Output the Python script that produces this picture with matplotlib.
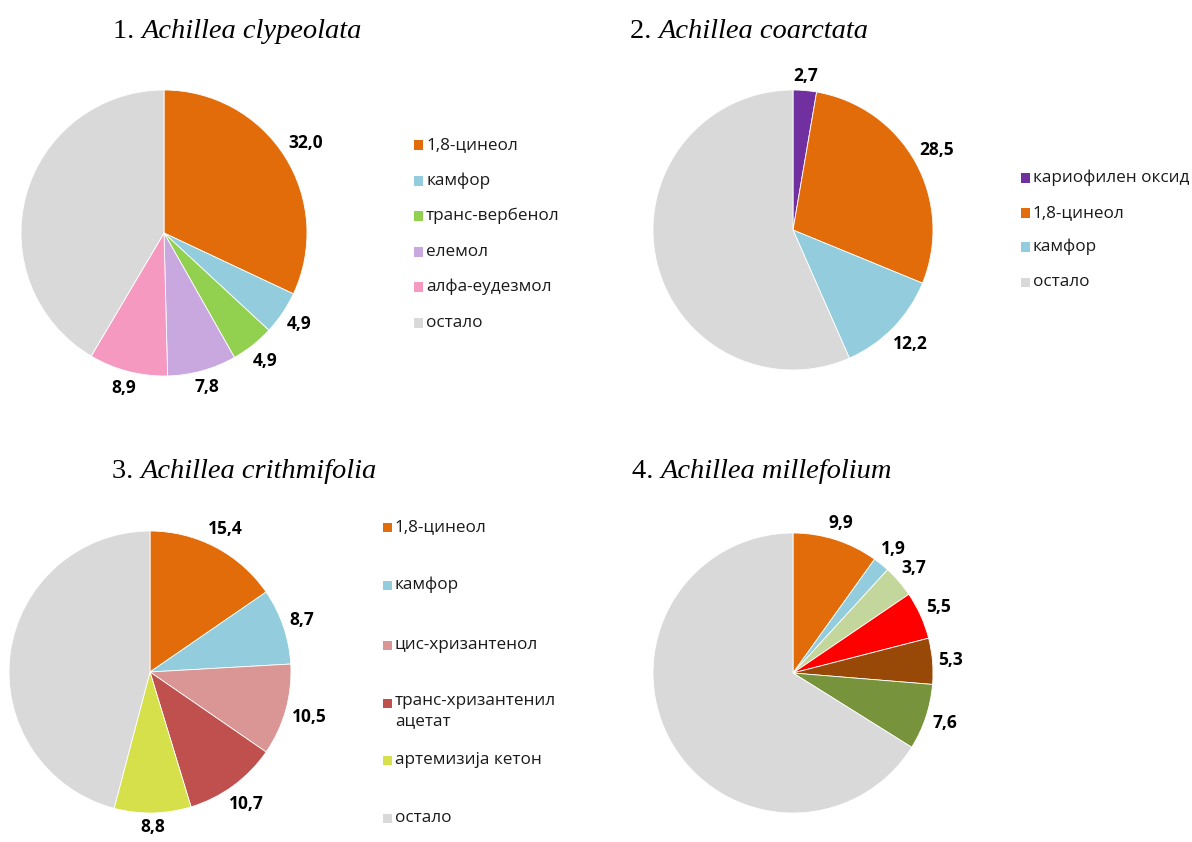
import numpy as np
import matplotlib
matplotlib.use("Agg")
import matplotlib.pyplot as plt
from matplotlib.patches import Rectangle

W, H = 1192, 842

# essential-oil composition (%) of four Achillea species
names = ["Achillea clypeolata", "Achillea coarctata",
         "Achillea crithmifolia", "Achillea millefolium"]

comp1 = ["1,8-цинеол", "камфор", "транс-вербенол", "елемол", "алфа-еудезмол"]
vals1 = [32.0, 4.9, 4.9, 7.8, 8.9]

comp2 = ["кариофилен оксид", "1,8-цинеол", "камфор"]
vals2 = [2.7, 28.5, 12.2]

comp3 = ["1,8-цинеол", "камфор", "цис-хризантенол",
         "транс-хризантенил\nацетат", "артемизија кетон"]
vals3 = [15.4, 8.7, 10.5, 10.7, 8.8]

vals4 = [9.9, 1.9, 3.7, 5.5, 5.3, 7.6]

rest_label = "остало"

ORANGE, CYAN, GREY = "#E36C0A", "#93CDDD", "#D9D9D9"
colors1 = [ORANGE, CYAN, "#92D050", "#C9A8E0", "#F599C1"]
colors2 = ["#7030A0", ORANGE, CYAN]
colors3 = [ORANGE, CYAN, "#D99694", "#C0504D", "#D5E04A"]
colors4 = [ORANGE, CYAN, "#C3D69B", "#FF0000", "#984807", "#77933C"]

LABEL_FONT = dict(family="Open Sans", fontsize=12.5, fontweight="bold", color="black")
LEGEND_FONT = dict(family="Open Sans", fontsize=12.3, color="#1a1a1a")
TITLE_SIZE = 20.5

fig = plt.figure(figsize=(W / 100, H / 100), dpi=100)
renderer = fig.canvas.get_renderer()


def fx(x):
    return x / W


def fy(y):
    return 1 - y / H


def draw_pie(cx, cy, r, vals, colors, half=240, gap=5):
    ax = fig.add_axes([fx(cx - half), fy(cy + half), 2 * half / W, 2 * half / H])
    data = list(vals) + [100 - sum(vals)]
    wedges, _ = ax.pie(data, colors=list(colors) + [GREY], startangle=90,
                       counterclock=False,
                       wedgeprops=dict(edgecolor="white", linewidth=0.6))
    lim = half / r
    ax.set_xlim(-lim, lim)
    ax.set_ylim(-lim, lim)
    ax.axis("off")
    # value labels just outside each slice (except the remainder)
    for w, v in zip(wedges[:-1], vals):
        th = np.deg2rad((w.theta1 + w.theta2) / 2)
        t = ax.text(0, 0, f"{v:.1f}".replace(".", ","), ha="center",
                    va="center", **LABEL_FONT)
        bb = t.get_window_extent(renderer)
        d = r + gap + bb.width / 2 * abs(np.cos(th)) + bb.height / 2 * abs(np.sin(th))
        t.set_position((d / r * np.cos(th), d / r * np.sin(th)))
    return ax


def draw_legend(x, ys, labels, colors, size=9):
    for y, lab, c in zip(ys, labels, colors):
        fig.add_artist(Rectangle((fx(x), fy(y + size / 2)), size / W, size / H,
                                 transform=fig.transFigure, facecolor=c,
                                 edgecolor="none"))
        if "\n" in lab:
            # wrapped entry: first line sits on the slot, the rest hangs below
            fig.text(fx(x + size + 3), fy(y - 10), lab, ha="left", va="top",
                     linespacing=1.35, **LEGEND_FONT)
        else:
            fig.text(fx(x + size + 3), fy(y), lab, ha="left", va="center",
                     **LEGEND_FONT)


def draw_title(x, y, num, name):
    t = fig.text(fx(x), fy(y), f"{num}. ", ha="left", va="baseline",
                 family="Liberation Serif", fontsize=TITLE_SIZE)
    bb = t.get_window_extent(renderer)
    fig.text(bb.x1 / W, fy(y), name, family="Liberation Serif",
             fontsize=TITLE_SIZE, style="italic", ha="left", va="baseline")


draw_title(113, 38, 1, names[0])
draw_title(630, 38, 2, names[1])
draw_title(112, 478, 3, names[2])
draw_title(632, 478, 4, names[3])

draw_pie(164, 233, 143, vals1, colors1)
draw_pie(793, 230, 140, vals2, colors2)
draw_pie(150, 672, 141, vals3, colors3)
draw_pie(793, 673, 140, vals4, colors4)

draw_legend(414, [145, 181, 216, 252, 287, 323], comp1 + [rest_label], colors1 + [GREY])
draw_legend(1021, [178, 213, 247, 282], comp2 + [rest_label], colors2 + [GREY])
draw_legend(383, [527, 585, 645, 703, 760, 818], comp3 + [rest_label], colors3 + [GREY])

fig.savefig("out.png", dpi=100, facecolor="white")
